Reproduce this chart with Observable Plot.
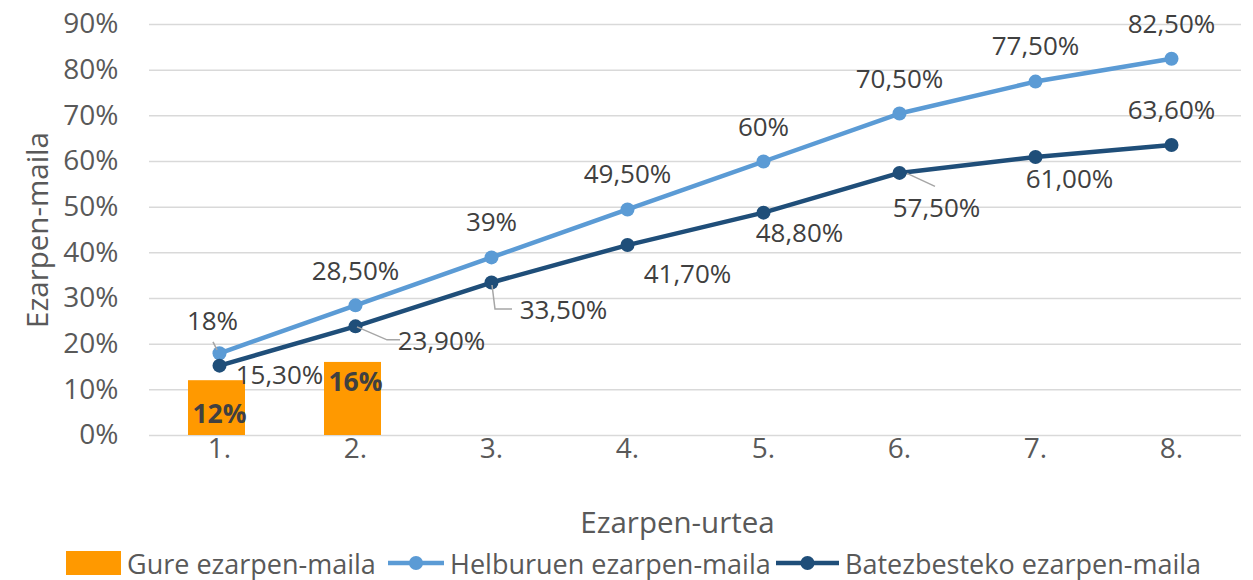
<!DOCTYPE html>
<html>
<head>
<meta charset="utf-8">
<script src="https://cdn.jsdelivr.net/npm/d3@7"></script>
<script src="https://cdn.jsdelivr.net/npm/@observablehq/plot@0.6"></script>
<style>
  html, body { margin: 0; padding: 0; background: #fff; }
  body { width: 1253px; height: 580px; overflow: hidden; font-family: "Open Sans", sans-serif; }
  #legend { position: relative; height: 36px; font-size: 27px; color: #595959; }
  .item { position: absolute; top: 0; height: 36px; display: flex; align-items: center; white-space: nowrap; }
  .item svg { display: block; margin-right: 6px; }
</style>
</head>
<body>
<div id="chart"></div>
<div id="legend"></div>
<script>
// ---- data ----
const years = ["1.", "2.", "3.", "4.", "5.", "6.", "7.", "8."];
const goalValues = [0.18, 0.285, 0.39, 0.495, 0.60, 0.705, 0.775, 0.825];
const avgValues = [0.153, 0.239, 0.335, 0.417, 0.488, 0.575, 0.610, 0.636];
const oursValues = [0.12, 0.16];
const goalLabels = ["18%", "28,50%", "39%", "49,50%", "60%", "70,50%", "77,50%", "82,50%"];
const avgLabels = ["15,30%", "23,90%", "33,50%", "41,70%", "48,80%", "57,50%", "61,00%", "63,60%"];
const oursLabels = ["12%", "16%"];
const yTicks = [0, 0.1, 0.2, 0.3, 0.4, 0.5, 0.6, 0.7, 0.8, 0.9];
const yTickLabels = ["0%", "10%", "20%", "30%", "40%", "50%", "60%", "70%", "80%", "90%"];
const seriesNames = ["Gure ezarpen-maila", "Helburuen ezarpen-maila", "Batezbesteko ezarpen-maila"];
const xTitle = "Ezarpen-urtea";
const yTitle = "Ezarpen-maila";

// ---- label placement (pixel offsets from the data point) ----
const goalLabelOffsets = [[-7, -32], [0, -34], [0, -35], [0, -35], [0, -34], [0, -34], [0, -35], [0, -34]];
const avgLabelOffsets = [[60, 10], [86, 15], [72, 28], [60, 30], [36, 21], [37, 36], [34, 23], [0, -34]];
const oursLabelOffsets = [[0, 34], [0, 20]];
const leaders = [
  {series: "goal", i: 0, pts: [[-6, -11], [-2, -3]]},
  {series: "avg", i: 1, pts: [[2, 1], [32, 14], [45, 14]]},
  {series: "avg", i: 2, pts: [[1, 3], [4, 27], [21, 27]]},
  {series: "avg", i: 5, pts: [[8, 1], [36, 14]]}
];

const colors = {ours: "#FF9900", goal: "#5B9BD5", avg: "#1F4E79", grid: "#D9D9D9", text: "#595959", label: "#404040", leader: "#A6A6A6"};

const goal = years.map((year, i) => ({year, value: goalValues[i], label: goalLabels[i]}));
const avg = years.map((year, i) => ({year, value: avgValues[i], label: avgLabels[i]}));
const ours = oursValues.map((value, i) => ({year: years[i], value, label: oursLabels[i]}));
const tickLabel = new Map(yTicks.map((t, i) => [t, yTickLabels[i]]));

const labelMarks = (data, offsets, opts) =>
  data.map((d, i) => Plot.text([d], {
    x: "year", y: "value", text: "label",
    dx: offsets[i][0], dy: offsets[i][1],
    fontSize: 26, fill: colors.label, ...opts
  }));

const leaderMark = (index, scales) => {
  const x = scales.x, y = scales.y;
  const bw = x.bandwidth ? x.bandwidth() / 2 : 0;
  const g = d3.create("svg:g");
  for (const l of leaders) {
    const d = (l.series === "goal" ? goal : avg)[l.i];
    const px = x(d.year) + bw, py = y(d.value);
    g.append("polyline")
      .attr("points", l.pts.map(([dx, dy]) => `${px + dx},${py + dy}`).join(" "))
      .attr("fill", "none")
      .attr("stroke", colors.leader)
      .attr("stroke-width", 1.5);
  }
  return g.node();
};

const chart = Plot.plot({
  width: 1253,
  height: 545,
  marginLeft: 149,
  marginRight: 12,
  marginTop: 24,
  marginBottom: 110,
  style: {fontFamily: "'Open Sans', sans-serif", color: colors.text, background: "#fff", overflow: "visible"},
  x: {domain: years, padding: 0, label: null},
  y: {domain: [0, 0.9], label: null},
  marks: [
    Plot.ruleY(yTicks, {stroke: colors.grid, strokeWidth: 1.5}),
    Plot.axisY({ticks: yTicks, tickFormat: t => tickLabel.get(t), tickSize: 0, tickPadding: 31, fontSize: 28, label: null}),
    Plot.axisX({tickSize: 0, tickPadding: 3, fontSize: 28, label: null}),
    Plot.barY(ours, {x: "year", y: "value", fill: colors.ours, insetLeft: 37, insetRight: 42}),
    Plot.line(goal, {x: "year", y: "value", stroke: colors.goal, strokeWidth: 4.5}),
    Plot.line(avg, {x: "year", y: "value", stroke: colors.avg, strokeWidth: 4.5}),
    Plot.dot(goal, {x: "year", y: "value", r: 7, fill: colors.goal}),
    Plot.dot(avg, {x: "year", y: "value", r: 7, fill: colors.avg}),
    leaderMark,
    ...labelMarks(goal, goalLabelOffsets, {}),
    ...labelMarks(avg, avgLabelOffsets, {}),
    ...labelMarks(ours, oursLabelOffsets, {fontWeight: "bold", fontSize: 26.5}),
    Plot.text([xTitle], {text: d => d, frameAnchor: "bottom", textAnchor: "middle", lineAnchor: "middle", dx: -18, dy: 88, fontSize: 29.5, fill: colors.text}),
    Plot.text([yTitle], {text: d => d, frameAnchor: "left", textAnchor: "middle", lineAnchor: "middle", dx: -111, rotate: -90, fontSize: 29.5, fill: colors.text})
  ]
});
document.getElementById("chart").appendChild(chart);

// ---- legend ----
const legend = d3.select("#legend");
const items = [
  {name: seriesNames[0], type: "bar", color: colors.ours, left: 66, w: 55},
  {name: seriesNames[1], type: "line", color: colors.goal, left: 388, w: 56},
  {name: seriesNames[2], type: "line", color: colors.avg, left: 776, w: 63}
];
for (const it of items) {
  const div = legend.append("div").attr("class", "item").style("left", it.left + "px");
  const svg = div.append("svg").attr("width", it.w).attr("height", 36);
  if (it.type === "bar") {
    svg.append("rect").attr("x", 0).attr("y", 6).attr("width", it.w).attr("height", 24).attr("fill", it.color);
  } else {
    svg.append("line").attr("x1", 0).attr("x2", it.w).attr("y1", 18).attr("y2", 18).attr("stroke", it.color).attr("stroke-width", 4.5);
    svg.append("circle").attr("cx", it.w / 2).attr("cy", 18).attr("r", 7).attr("fill", it.color);
  }
  div.append("span").text(it.name);
}
</script>
</body>
</html>
